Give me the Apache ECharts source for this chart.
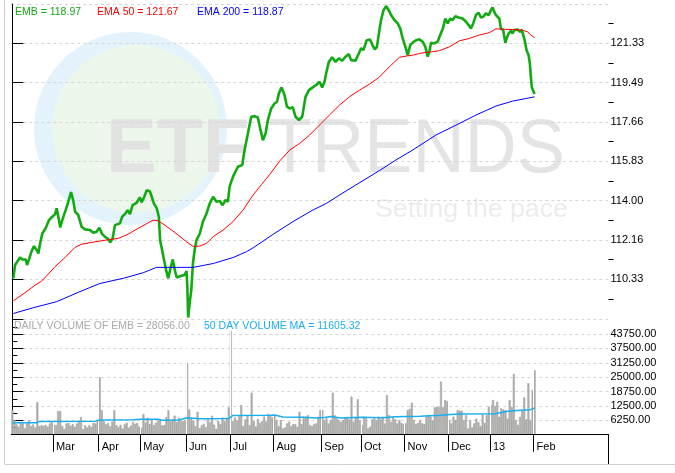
<!DOCTYPE html>
<html>
<head>
<meta charset="utf-8">
<script src="https://cdn.jsdelivr.net/npm/echarts@6/dist/echarts.min.js"></script>
<style>
  html, body { margin: 0; padding: 0; background: #fff; }
  #chart { width: 675px; height: 473px; }
</style>
</head>
<body>
<div id="chart"></div>
<script>
// x values are trading-day numbers, day 0 = 1 Feb 2012; the axis runs on to day 286
const DAY_COUNT = 287
const monthStartDay = [20, 42, 62, 84, 105, 126, 149, 168, 189, 210, 230, 251]
const monthLabels = ['Mar', 'Apr', 'May', 'Jun', 'Jul', 'Aug', 'Sep', 'Oct', 'Nov', 'Dec', '13', 'Feb']

const priceTickValues = [110.333, 112.167, 114.0, 115.833, 117.667, 119.5, 121.333]
const priceTickLabels = ['110.33', '112.16', '114.00', '115.83', '117.66', '119.49', '121.33']
const priceMinorTicks = [109.417, 111.25, 113.083, 114.917, 116.75, 118.583, 120.417, 122.25]

// EMB close  [day, price]
const embPrice = [
  [0.5, 110.38], [1.3, 111.00], [3.7, 111.35], [4.8, 111.26], [6.4, 111.26], [7.1, 111.00], [8.0, 111.26],
  [9.0, 111.57], [10.3, 111.88], [11.7, 111.70], [12.5, 111.54], [13.5, 112.08], [14.4, 112.47], [16.0, 112.71],
  [17.6, 113.09], [19.2, 113.25], [20.5, 113.36], [21.3, 113.64], [22.1, 113.25], [23.0, 112.75], [24.0, 113.09],
  [25.6, 113.56], [26.9, 113.95], [28.2, 114.40], [29.3, 113.99], [30.2, 113.48], [31.7, 113.33], [33.3, 112.78],
  [34.9, 112.66], [37.3, 112.63], [38.9, 112.50], [40.5, 112.55], [41.8, 112.74], [43.2, 112.44], [44.5, 112.32],
  [46.1, 112.21], [47.0, 112.05], [48.2, 112.24], [49.3, 112.86], [51.7, 112.94], [52.8, 113.25], [54.4, 113.41],
  [55.4, 113.56], [56.5, 113.37], [57.8, 113.79], [59.7, 113.90], [61.3, 114.15], [62.1, 113.92], [63.4, 114.18],
  [64.6, 114.49], [66.1, 114.43], [67.0, 114.18], [68.0, 113.87], [69.4, 113.64], [70.4, 113.25], [71.0, 112.16],
  [72.3, 111.54], [73.9, 110.76], [74.9, 110.38], [76.0, 110.84], [77.1, 111.26], [78.1, 110.76], [79.0, 110.42],
  [80.6, 110.48], [82.9, 110.55], [83.7, 110.72], [84.1, 110.00], [84.5, 108.55], [85.2, 109.21], [86.0, 109.83],
  [86.8, 111.08], [87.6, 111.70], [88.5, 112.16], [90.1, 112.47], [91.6, 113.02], [93.3, 113.40], [94.9, 113.87],
  [96.5, 114.18], [98.1, 113.95], [99.7, 113.98], [101.0, 113.79], [102.5, 114.03], [103.6, 113.95], [104.4, 114.65],
  [106.0, 115.11], [108.4, 115.58], [110.5, 115.66], [111.6, 116.36], [113.2, 117.13], [114.8, 117.91], [116.4, 117.94],
  [118.0, 117.88], [119.1, 117.37], [120.4, 116.82], [121.7, 117.13], [122.8, 117.75], [124.4, 118.30], [126.0, 118.53],
  [127.2, 118.61], [128.1, 119.00], [129.4, 119.28], [130.8, 118.92], [132.0, 118.38], [133.2, 118.30], [134.8, 118.35],
  [136.1, 117.91], [137.7, 117.76], [139.3, 117.91], [140.9, 118.84], [142.5, 119.15], [144.4, 119.28], [146.0, 119.39],
  [147.6, 119.54], [148.9, 119.28], [150.0, 119.54], [150.8, 119.93], [152.1, 120.47], [153.7, 120.68], [155.3, 120.47],
  [156.9, 120.63], [158.5, 120.52], [160.1, 120.71], [161.7, 120.83], [162.8, 120.55], [164.9, 120.52], [166.5, 120.86],
  [167.6, 121.10], [168.7, 121.02], [170.3, 121.48], [171.9, 121.51], [173.2, 121.22], [174.2, 121.05], [175.2, 121.17],
  [176.4, 121.95], [177.2, 122.42], [178.4, 122.88], [179.6, 123.07], [180.9, 122.88], [182.0, 122.65], [183.6, 122.42],
  [185.2, 122.26], [186.4, 122.03], [187.6, 121.56], [188.9, 121.17], [190.0, 120.78], [191.2, 121.25], [192.4, 121.37],
  [194.0, 121.48], [195.6, 121.52], [197.2, 121.41], [198.5, 121.17], [199.6, 120.71], [200.4, 120.94], [201.2, 121.36],
  [202.8, 121.33], [204.4, 121.41], [205.6, 121.72], [206.9, 122.03], [208.1, 122.49], [209.2, 122.26], [210.4, 122.49],
  [211.6, 122.42], [212.9, 122.60], [214.5, 122.54], [216.4, 122.49], [218.0, 122.34], [219.3, 122.18], [220.4, 122.03],
  [221.5, 122.26], [222.8, 122.65], [224.1, 122.76], [225.2, 122.54], [226.3, 122.57], [227.6, 122.73], [228.9, 122.65],
  [230.0, 122.88], [230.8, 123.01], [231.6, 122.80], [232.4, 122.65], [233.2, 122.57], [234.0, 122.49], [234.8, 122.03],
  [235.9, 121.95], [236.9, 121.36], [237.5, 121.56], [238.5, 121.79], [239.6, 121.92], [240.4, 121.79], [241.2, 121.95],
  [242.0, 121.87], [242.8, 121.98], [243.9, 121.87], [244.9, 121.95], [245.5, 121.87], [246.2, 121.48], [247.1, 121.02],
  [248.1, 120.78], [248.7, 120.40], [249.2, 119.77], [249.6, 119.31], [250.3, 119.12], [251.0, 118.97]
]

const ema50 = [
  [0.5, 109.33], [6.1, 109.71], [10.9, 110.06], [14.1, 110.25], [20.5, 110.92], [25.3, 111.35], [30.1, 111.82],
  [33.3, 111.97], [39.7, 112.08], [46.9, 112.19], [50.9, 112.24], [55.7, 112.44], [60.5, 112.71], [65.3, 112.97],
  [67.7, 113.09], [70.1, 113.06], [73.3, 112.86], [76.5, 112.63], [79.7, 112.40], [83.7, 112.08], [86.9, 111.87],
  [90.1, 111.88], [93.3, 112.01], [96.5, 112.32], [101.3, 112.63], [106.0, 113.02], [110.9, 113.56], [115.6, 114.25],
  [119.7, 114.75], [123.7, 115.22], [128.5, 115.85], [133.3, 116.36], [138.1, 116.67], [142.9, 117.06], [147.6, 117.52],
  [152.4, 117.99], [157.2, 118.45], [162.0, 118.84], [166.8, 119.15], [171.6, 119.43], [176.4, 119.76], [181.2, 120.24],
  [186.0, 120.68], [189.2, 120.74], [192.4, 120.78], [195.6, 120.86], [198.8, 120.91], [202.0, 120.94], [205.2, 120.99],
  [210.0, 121.17], [214.8, 121.45], [219.6, 121.56], [224.4, 121.72], [229.2, 121.83], [232.4, 122.01], [235.6, 121.99],
  [240.4, 121.98], [245.2, 121.95], [247.6, 121.87], [249.2, 121.72], [251.0, 121.60]
]

const ema200 = [
  [0.5, 108.74], [10.1, 109.01], [21.3, 109.29], [32.5, 109.76], [42.1, 110.14], [53.3, 110.38], [62.9, 110.64],
  [69.3, 110.89], [78.9, 110.89], [86.9, 110.89], [96.5, 111.07], [106.1, 111.35], [112.5, 111.62], [115.7, 111.80],
  [125.3, 112.43], [134.8, 113.02], [144.4, 113.56], [150.9, 113.87], [157.2, 114.26], [163.7, 114.65], [176.4, 115.40],
  [184.4, 115.90], [192.4, 116.36], [203.6, 117.06], [213.2, 117.52], [222.8, 117.99], [232.4, 118.41], [240.4, 118.64],
  [246.8, 118.76], [251.0, 118.84]
]

// daily volume, one array per month
const volFeb = [10750, 6400, 4500, 3500, 5000, 5000, 2800, 4900, 6300, 3800, 4500, 3200, 14200, 3800, 4200, 3900, 4300, 3500, 4900, 5800]
const volMar = [4300, 4200, 10300, 10300, 3800, 2500, 4900, 5100, 3900, 4600, 3500, 4900, 5600, 7700, 2500, 4100, 3200, 4200, 3400, 5200, 4900, 6200]
const volApr = [25000, 10700, 5900, 4600, 5100, 3700, 5700, 10700, 4200, 3400, 4300, 2700, 4600, 5200, 3100, 4000, 5500, 4800, 5100, 3600]
const volMay = [3000, 9000, 5400, 7400, 4700, 6300, 4200, 5200, 6100, 6900, 4100, 4200, 7600, 10700, 5800, 6900, 8300, 5600, 7300, 6100, 5900, 6400]
const volJun = [31250, 11000, 7200, 6000, 3700, 10000, 2900, 4100, 4800, 3300, 6900, 5500, 8300, 4400, 2600, 6000, 4700, 7500, 5900, 7400, 11900]
const volJul = [45200, 5900, 7500, 6300, 8100, 12900, 3800, 6700, 8200, 4200, 18300, 6000, 3600, 6800, 5200, 5900, 7900, 5800, 9100, 8200, 7600]
const volAug = [8580, 6400, 3780, 6400, 2760, 3200, 4940, 5670, 3780, 4650, 4650, 3490, 10030, 4650, 7850, 7850, 8580, 4215, 3780, 4650, 4940, 7850, 10750]
const volSep = [10750, 6400, 7120, 4940, 6400, 18300, 8430, 7120, 6400, 5670, 6400, 7410, 7850, 6690, 16570, 5670, 7560, 15400, 6400]
const volOct = [4215, 7850, 7120, 2760, 3490, 6690, 7120, 6400, 7850, 6690, 7850, 4940, 17300, 8580, 5670, 7850, 6690, 4940, 6400, 5200, 4650]
const volNov = [4940, 10750, 11190, 13950, 6400, 4650, 5230, 6400, 4940, 4650, 7850, 8580, 7850, 6200, 11920, 12200, 11920, 23100, 11920, 15100, 14680]
const volDec = [6400, 4940, 7850, 6400, 10750, 10460, 10460, 6400, 8580, 2760, 6400, 3200, 4940, 7000, 5500, 3800, 9000, 5200, 8500, 12200]
const volJan = [12900, 15100, 12500, 14400, 7800, 11500, 11000, 10700, 7000, 15100, 12000, 26400, 6400, 4300, 7800, 10400, 16300, 6700, 22400, 6400, 19500, 28056]

const volumeMA = [
  [0, 5230], [12, 5230], [13, 5700], [40, 5900], [42, 6400], [58, 6500], [62, 6700], [70, 6700], [72, 6300],
  [80, 6400], [84, 7400], [90, 6900], [104, 7000], [106, 8400], [124, 8500], [126, 8580], [130, 7700], [140, 7600],
  [146, 7300], [150, 7500], [153, 7900], [158, 7300], [168, 7600], [178, 7400], [184, 7800], [196, 8000], [206, 8430],
  [214, 9000], [232, 9150], [238, 10170], [244, 10600], [249, 10900], [251, 11605]
]

const volume = [].concat(volFeb, volMar, volApr, volMay, volJun, volJul, volAug, volSep, volOct, volNov, volDec, volJan)
const dayAxis = Array.from({ length: DAY_COUNT }, (_, i) => i)
// month boundaries sit half a day before the first trading day
const monthEdge = monthStartDay.map(d => d - 0.5)

const FONT = '"Liberation Sans", Arial, sans-serif'
const GRID_DASH = { color: '#d6d6d6', type: [3, 3], width: 1 }
const P_MIN = 108.39
const P_MAX = 123.167
const VOL_COLOR = '#aaaaa8'

const chart = echarts.init(document.getElementById('chart'))

const option = {
  animation: false,
  backgroundColor: '#fff',
  textStyle: { fontFamily: FONT },
  grid: [
    { left: 11.3, right: 66.5, top: 4, height: 317 },
    { left: 11.3, right: 66.5, top: 319.7, height: 115 },
  ],
  xAxis: [
    { gridIndex: 0, type: 'value', min: -0.5, max: DAY_COUNT - 0.5, show: false },
    // category axis carrying the daily bars
    {
      gridIndex: 1, type: 'category', data: dayAxis, boundaryGap: true, position: 'bottom',
      axisLine: { show: false }, axisTick: { show: false }, axisLabel: { show: false }, splitLine: { show: false },
    },
    // visible time axis of the lower panel
    {
      gridIndex: 1, type: 'value', min: -0.5, max: DAY_COUNT - 0.5, z: 5, position: 'bottom', offset: 0,
      axisLine: { show: true, onZero: false, lineStyle: { color: '#000', width: 1 } },
      axisTick: { show: true, customValues: monthEdge, length: 17, lineStyle: { color: '#000' } },
      axisLabel: {
        show: true,
        customValues: monthEdge,
        formatter: v => monthLabels[monthEdge.indexOf(v)],
        align: 'left', padding: [0, 0, 0, 3], margin: 7,
        color: '#000', fontSize: 11, fontFamily: FONT,
      },
      splitLine: { show: true, lineStyle: { color: '#fff', width: 1 } },
    },
  ],
  yAxis: [
    {
      gridIndex: 0, type: 'value', position: 'right', min: P_MIN, max: P_MAX,
      axisLine: { show: true, lineStyle: { color: '#000' } },
      axisTick: { customValues: priceTickValues, length: 11, lineStyle: { color: '#000' } },
      axisLabel: {
        customValues: priceTickValues,
        formatter: v => priceTickLabels[priceTickValues.indexOf(v)],
        margin: 2, color: '#000', fontSize: 11, fontFamily: FONT,
      },
      splitLine: { show: true, lineStyle: GRID_DASH },
    },
    {
      // minor ticks of the price axis
      gridIndex: 0, type: 'value', position: 'right', min: P_MIN, max: P_MAX,
      axisLine: { show: false },
      axisTick: { customValues: priceMinorTicks, length: 5, lineStyle: { color: '#000' } },
      axisLabel: { show: false },
      splitLine: { show: false },
    },
    {
      gridIndex: 1, type: 'value', position: 'right', min: 0, max: 50000, interval: 6250,
      axisLine: { show: true, lineStyle: { color: '#000' } },
      axisTick: { length: 11, lineStyle: { color: '#000' } },
      minorTick: { show: true, splitNumber: 2, length: 5, lineStyle: { color: '#000' } },
      axisLabel: {
        formatter: v => (v === 0 || v === 50000) ? '' : v.toFixed(2),
        margin: 2, color: '#000', fontSize: 11, fontFamily: FONT,
      },
      splitLine: { show: true, lineStyle: GRID_DASH },
    },
  ],
  graphic: [
    // ETF Trends watermark
    { type: 'circle', z: -1, silent: true, shape: { cx: 130.5, cy: 128.5, r: 96.5 }, style: { fill: '#e4f3fb' } },
    { type: 'circle', z: -1, silent: true, shape: { cx: 136, cy: 129, r: 84 }, style: { fill: '#edf6ea' } },
    { type: 'text', z: -1, silent: true, x: 106, y: 151,
      style: { text: 'ETF', fill: '#e2e2e2', fontSize: 76, fontWeight: 'bold', fontFamily: FONT, verticalAlign: 'middle' } },
    { type: 'text', z: -1, silent: true, x: 268, y: 151, scaleX: 0.95,
      style: { text: 'TRENDS', fill: '#e4e4e4', fontSize: 76, fontFamily: FONT, verticalAlign: 'middle' } },
    { type: 'text', z: -1, silent: true, x: 375, y: 210,
      style: { text: 'Setting the pace', fill: '#ececec', fontSize: 26.7, fontFamily: FONT, verticalAlign: 'middle' } },
    // frame
    { type: 'line', silent: true, shape: { x1: 4.5, y1: 0, x2: 4.5, y2: 464 }, style: { stroke: '#cfcfcf', lineWidth: 1 } },
    { type: 'line', silent: true, shape: { x1: 4.5, y1: 464.5, x2: 675, y2: 464.5 }, style: { stroke: '#cfcfcf', lineWidth: 1 } },
    { type: 'line', silent: true, shape: { x1: 608.5, y1: 434, x2: 608.5, y2: 464 }, style: { stroke: '#000', lineWidth: 1 } },
    { type: 'line', silent: true, shape: { x1: 11, y1: 4.5, x2: 608, y2: 4.5 }, style: { stroke: '#d6d6d6', lineWidth: 1, lineDash: [3, 3] } },
    // legends
    { type: 'text', z: 10, x: 15, y: 12, style: { text: 'EMB = 118.97', fill: '#11aa11', fontSize: 10.5, fontFamily: FONT, verticalAlign: 'middle' } },
    { type: 'text', z: 10, x: 97, y: 12, style: { text: 'EMA 50 = 121.67', fill: '#ff0000', fontSize: 10.5, fontFamily: FONT, verticalAlign: 'middle' } },
    { type: 'text', z: 10, x: 197, y: 12, style: { text: 'EMA 200 = 118.87', fill: '#0000ff', fontSize: 10.5, fontFamily: FONT, verticalAlign: 'middle' } },
    { type: 'text', z: 10, x: 14, y: 326, style: { text: 'DAILY VOLUME OF EMB = 28056.00', fill: '#a9a9a9', fontSize: 10.5, fontFamily: FONT, verticalAlign: 'middle' } },
    { type: 'text', z: 10, x: 204, y: 326, style: { text: '50 DAY VOLUME MA = 11605.32', fill: '#19aef0', fontSize: 10.5, fontFamily: FONT, verticalAlign: 'middle' } },
  ],
  series: [
    {
      type: 'bar', xAxisIndex: 1, yAxisIndex: 2, silent: true,
      data: volume,
      barWidth: '100%', barCategoryGap: '0%',
      itemStyle: { color: VOL_COLOR, borderColor: VOL_COLOR, borderWidth: 0.6 },
    },
    {
      type: 'line', xAxisIndex: 2, yAxisIndex: 2, z: 6, silent: true,
      data: volumeMA, symbol: 'none',
      lineStyle: { color: '#19aef0', width: 1.5 },
    },
    {
      type: 'line', xAxisIndex: 0, yAxisIndex: 0, silent: true,
      data: embPrice, symbol: 'none',
      lineStyle: { color: '#12aa12', width: 2.6 },
    },
    {
      type: 'line', xAxisIndex: 0, yAxisIndex: 0, silent: true,
      data: ema50, symbol: 'none',
      lineStyle: { color: '#ff0000', width: 1 },
    },
    {
      type: 'line', xAxisIndex: 0, yAxisIndex: 0, silent: true,
      data: ema200, symbol: 'none',
      lineStyle: { color: '#0000ff', width: 1 },
    },
  ],
}

chart.setOption(option)
</script>
</body>
</html>
